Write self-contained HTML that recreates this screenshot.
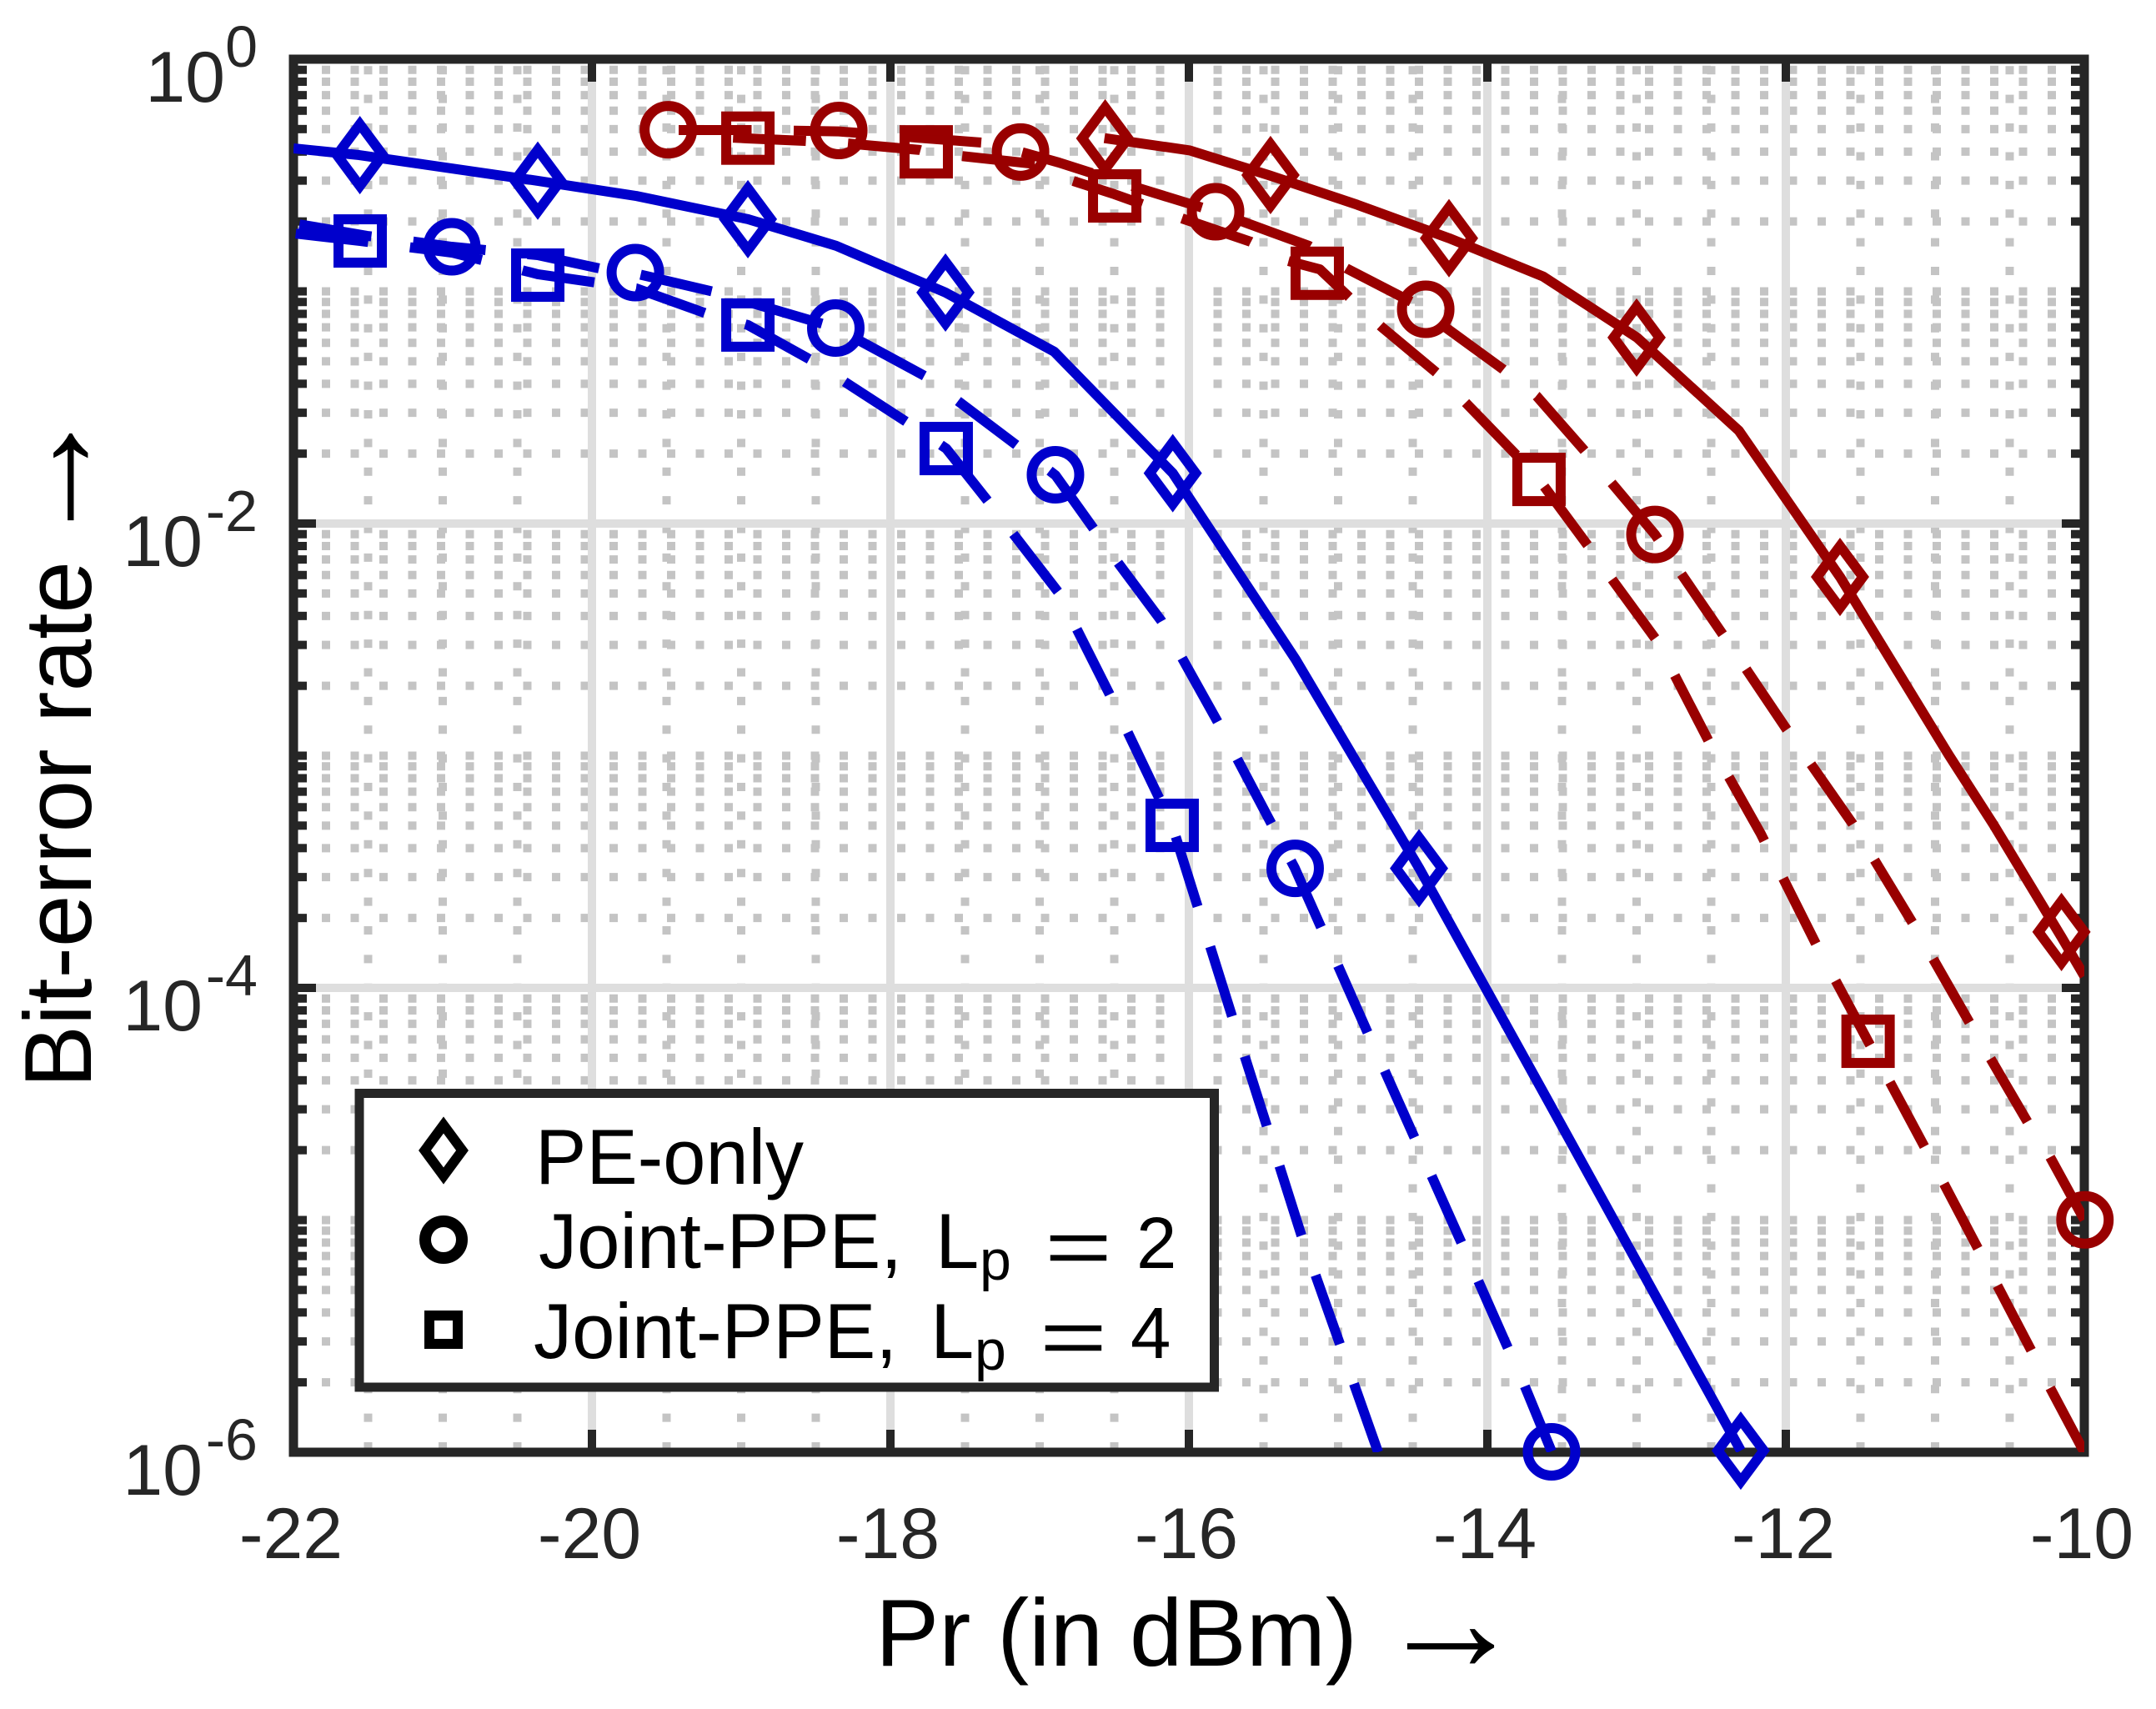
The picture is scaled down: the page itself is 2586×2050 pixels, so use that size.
<!DOCTYPE html>
<html lang="en">
<head>
<meta charset="utf-8">
<title>Bit-error rate vs received power</title>
<style>
html,body{margin:0;padding:0;background:#fff;}
svg{display:block;}
text{font-family:"Liberation Sans",sans-serif;}
</style>
</head>
<body>
<svg id="chart" xmlns="http://www.w3.org/2000/svg" width="2586" height="2050" viewBox="0 0 2586 2050">
<defs><clipPath id="plot-clip"><rect x="352" y="71" width="2148" height="1671"/></clipPath></defs>
<rect x="0" y="0" width="2586" height="2050" fill="#ffffff"/>
<g id="grid"></g>
<g id="axes"></g>
<g id="series"></g>
<text x="1050" y="1998" font-size="114" fill="#000" textLength="578" lengthAdjust="spacingAndGlyphs">Pr (in dBm)</text>
<text x="1652" y="2004" font-size="176" fill="#000">→</text>
<text transform="translate(109,1305) rotate(-90)" font-size="114" fill="#000" textLength="632" lengthAdjust="spacingAndGlyphs">Bit-error rate</text>
<text transform="translate(114,660) rotate(-90)" font-size="176" fill="#000">→</text>
<g>
  <rect x="431" y="1311.5" width="1025.5" height="352.5" fill="#fff" stroke="#262626" stroke-width="11"/>
  <path d="M532 1349.5L554.5 1380L532 1410.5L509.5 1380Z" fill="none" stroke="#000" stroke-width="12" stroke-linejoin="miter"/>
  <circle cx="532" cy="1487" r="22" fill="none" stroke="#000" stroke-width="14"/>
  <rect x="515" y="1578" width="34" height="34" fill="none" stroke="#000" stroke-width="12"/>
  <text x="642" y="1420" font-size="94" fill="#000" textLength="322" lengthAdjust="spacingAndGlyphs">PE-only</text>
  <text x="646" y="1521" font-size="94" fill="#000" textLength="436" lengthAdjust="spacingAndGlyphs">Joint-PPE,</text>
  <text x="1122" y="1521" font-size="94" fill="#000">L</text>
  <text x="1175" y="1535" font-size="68" fill="#000">p</text>
  <text x="1253" y="1528" font-size="94" fill="#000" textLength="81" lengthAdjust="spacingAndGlyphs">=</text>
  <text x="1363" y="1521" font-size="87" fill="#000">2</text>
  <text x="640" y="1629" font-size="94" fill="#000" textLength="436" lengthAdjust="spacingAndGlyphs">Joint-PPE,</text>
  <text x="1116" y="1629" font-size="94" fill="#000">L</text>
  <text x="1169" y="1643" font-size="68" fill="#000">p</text>
  <text x="1247" y="1636" font-size="94" fill="#000" textLength="81" lengthAdjust="spacingAndGlyphs">=</text>
  <text x="1356" y="1629" font-size="87" fill="#000">4</text>
</g>
</svg>
<script>
// Tick values
const xTicks = [-22, -20, -18, -16, -14, -12, -10];
const xMinorTicks = [-21.5, -21, -20.5, -19.5, -19, -18.5, -17.5, -17, -16.5, -15.5, -15, -14.5, -13.5, -13, -12.5, -11.5, -11, -10.5];
const yDecades = [0, -2, -4, -6];
const yMinorDecades = [0, -1, -2, -3, -4, -5];
const yMinorMultipliers = [0.9, 0.8, 0.7, 0.6, 0.5, 0.4, 0.3, 0.2];

// Series: received power (dBm) and log10(BER)
const peBlueX = [-22, -21.559, -20.363, -19.704, -18.955, -18.363, -17.631, -16.902, -16.108, -15.285, -14.458, -13.592, -12.302];
const peBlueLog = [-0.384, -0.413, -0.524, -0.589, -0.689, -0.804, -1.005, -1.260, -1.783, -2.585, -3.483, -4.488, -5.993];
const peBlueMarkX = [-21.555, -20.363, -18.955, -17.631, -16.108, -14.458, -12.302];
const peBlueMarkLog = [-0.413, -0.523, -0.689, -1.005, -1.783, -3.485, -5.993];

const lp2BlueX = [-22, -21.508, -21.19, -20.939, -20.363, -19.950, -19.709, -19.196, -18.369, -17.771, -17.156, -16.894, -16.475, -16.184, -15.810, -15.291, -14.804, -14.173, -13.749, -13.570];
const lp2BlueLog = [-0.707, -0.761, -0.786, -0.808, -0.844, -0.901, -0.923, -1.000, -1.156, -1.364, -1.662, -1.792, -2.169, -2.420, -2.851, -3.483, -4.190, -5.099, -5.716, -5.996];
const lp2BlueMarkX = [-20.939, -19.709, -18.366, -16.894, -15.288, -13.570];
const lp2BlueMarkLog = [-0.808, -0.919, -1.158, -1.790, -3.485, -5.998];

const lp4BlueX = [-22, -21.553, -20.939, -20.363, -19.704, -19.235, -18.955, -18.531, -17.883, -17.626, -17.352, -16.877, -16.531, -16.112, -15.709, -15.246, -14.894, -14.732];
const lp4BlueLog = [-0.750, -0.783, -0.833, -0.926, -0.987, -1.095, -1.145, -1.296, -1.566, -1.677, -1.899, -2.294, -2.736, -3.300, -4.126, -5.066, -5.705, -6];
const lp4BlueMarkX = [-21.553, -20.363, -18.955, -17.626, -16.112];
const lp4BlueMarkLog = [-0.783, -0.930, -1.145, -1.677, -3.300];

const peRedX = [-16.566, -15.994, -15.458, -14.872, -14.257, -13.626, -12.997, -12.315, -11.637, -10.908, -10.609, -10.153, -10];
const peRedLog = [-0.340, -0.393, -0.501, -0.627, -0.771, -0.936, -1.199, -1.600, -2.230, -2.997, -3.296, -3.781, -3.949];
const peRedMarkX = [-16.561, -15.453, -14.257, -13.0, -11.637, -10.153];
const peRedMarkLog = [-0.341, -0.499, -0.771, -1.199, -2.230, -3.759];

const lp2RedX = [-19.492, -18.927, -18.346, -17.821, -17.391, -17.128, -16.872, -16.313, -15.821, -15.196, -14.944, -14.413, -14.285, -13.894, -13.670, -13.352, -12.877, -12.698, -12.419, -11.994, -11.553, -11.151, -10.765, -10.380, -10.229, -10];
const lp2RedLog = [-0.305, -0.305, -0.311, -0.338, -0.359, -0.399, -0.445, -0.560, -0.657, -0.804, -0.901, -1.077, -1.153, -1.336, -1.451, -1.684, -2.047, -2.219, -2.481, -2.887, -3.293, -3.720, -4.154, -4.578, -4.729, -4.998];
const lp2RedMarkX = [-19.488, -18.346, -17.128, -15.821, -14.413, -12.877, -9.996];
const lp2RedMarkLog = [-0.304, -0.307, -0.400, -0.657, -1.077, -2.047, -4.999];

const lp4RedX = [-19.056, -18.961, -18.575, -18.285, -17.804, -17.760, -17.525, -17.022, -16.777, -16.497, -16.045, -15.587, -15.335, -15.123, -14.916, -14.709, -14.341, -14.134, -13.799, -13.654, -13.324, -13.156, -12.866, -12.514, -12.168, -11.793, -11.449, -11.067, -10.709, -10.352, -10.229, -10];
const lp4RedLog = [-0.338, -0.341, -0.352, -0.363, -0.391, -0.399, -0.417, -0.452, -0.524, -0.582, -0.686, -0.786, -0.869, -0.905, -1.031, -1.153, -1.350, -1.487, -1.709, -1.810, -2.097, -2.248, -2.503, -2.941, -3.336, -3.817, -4.230, -4.689, -5.127, -5.566, -5.723, -6];
const lp4RedMarkX = [-18.955, -17.760, -16.497, -15.140, -13.654, -11.449];
const lp4RedMarkLog = [-0.340, -0.399, -0.589, -0.922, -1.810, -4.230];

const NS = 'http://www.w3.org/2000/svg';
const plot = {left: 352, right: 2500, top: 71, bottom: 1742};
function xScale(v) { return plot.left + (v + 22) * (plot.right - plot.left) / 12; }
function yScale(l) { return plot.top + (-l) * (plot.bottom - plot.top) / 6; }

function make(tag, parent, attrs) {
  const el = document.createElementNS(NS, tag);
  for (const k in attrs) el.setAttribute(k, attrs[k]);
  parent.appendChild(el);
  return el;
}

const gridG = document.getElementById('grid');
const axesG = document.getElementById('axes');
const seriesG = document.getElementById('series');

// Minor dotted grid
xMinorTicks.forEach(function (v) {
  const el = make('line', gridG, {x1: xScale(v), x2: xScale(v), y1: 1740, y2: plot.top + 5, stroke: '#c4c4c4', 'stroke-width': 10, 'stroke-dasharray': '10 24.39'});
  
  
});
yMinorDecades.forEach(function (d) {
  yMinorMultipliers.forEach(function (m) {
    const y = yScale(d + Math.log10(m));
    const el = make('line', gridG, {x1: 351.5, x2: plot.right - 5, y1: y, y2: y, stroke: '#c4c4c4', 'stroke-width': 10, 'stroke-dasharray': '10 24.5'});
    
    
  });
  if (d % 2 !== 0) return;
  const y = yScale(d - 1);
  const el = make('line', gridG, {x1: 351.5, x2: plot.right - 5, y1: y, y2: y, stroke: '#c4c4c4', 'stroke-width': 10, 'stroke-dasharray': '10 24.5'});
  
  
});

// Major grid
xTicks.slice(1, -1).forEach(function (v) {
  const el = make('line', gridG, {x1: xScale(v), x2: xScale(v), y1: plot.top, y2: plot.bottom, stroke: '#dedede', 'stroke-width': 10});
  
  
});
yDecades.slice(1, -1).forEach(function (d) {
  const el = make('line', gridG, {x1: plot.left, x2: plot.right, y1: yScale(d), y2: yScale(d), stroke: '#dedede', 'stroke-width': 10});
  
  
});

// Axes box and ticks
const axisColor = '#262626';
function tickLine(x1, y1, x2, y2, name) {
  const el = make('line', axesG, {x1: x1, y1: y1, x2: x2, y2: y2, stroke: axisColor, 'stroke-width': 10});
  
  
}
xTicks.slice(1, -1).forEach(function (v) {
  const x = xScale(v);
  tickLine(x, plot.top, x, plot.top + 27, 'x-tick-top');
  tickLine(x, plot.bottom, x, plot.bottom - 27, 'x-tick-bottom');
});
yDecades.forEach(function (d) {
  const y = yScale(d);
  tickLine(plot.left, y, plot.left + 27, y, 'y-major-tick-left');
  tickLine(plot.right, y, plot.right - 27, y, 'y-major-tick-right');
});
yMinorDecades.forEach(function (d) {
  yMinorMultipliers.forEach(function (m) {
    const y = yScale(d + Math.log10(m));
    tickLine(plot.left, y, plot.left + 16, y, 'y-minor-tick-left');
    tickLine(plot.right, y, plot.right - 16, y, 'y-minor-tick-right');
  });
  if (d % 2 !== 0) return;
  const y = yScale(d - 1);
  tickLine(plot.left, y, plot.left + 16, y, 'y-minor-tick-left');
  tickLine(plot.right, y, plot.right - 16, y, 'y-minor-tick-right');
});
const frame = make('rect', axesG, {x: plot.left, y: plot.top, width: plot.right - plot.left, height: plot.bottom - plot.top, fill: 'none', stroke: axisColor, 'stroke-width': 11});



// Tick labels
xTicks.forEach(function (v) {
  const t = make('text', axesG, {x: xScale(v) - 3, y: 1869, 'font-size': 86, fill: axisColor, 'text-anchor': 'middle'});
  t.textContent = String(v);
  
  
});
yDecades.forEach(function (d) {
  const base = yScale(d) + 51;
  const exp = String(d);
  const tenEnd = d === 0 ? 270 : 243;
  const t = make('text', axesG, {x: tenEnd, y: base, 'font-size': 86, fill: axisColor, 'text-anchor': 'end'});
  t.textContent = '10';
  
  
  const e = make('text', axesG, {x: 309, y: base - 42, 'font-size': 70, fill: axisColor, 'text-anchor': 'end'});
  e.textContent = exp;
  
  
});

// Series
const dashOn = 87.5, dashOff = 50.5;
function drawLine(xs, logs, color, anchorIndex, name) {
  const pts = xs.map(function (v, i) { return xScale(v) + ',' + yScale(logs[i]); }).join(' ');
  const el = make('polyline', seriesG, {points: pts, fill: 'none', stroke: color, 'stroke-width': 12, 'clip-path': 'url(#plot-clip)', 'stroke-linejoin': 'round'});
  if (anchorIndex !== null) {
    // Phase the dash pattern so a dash starts at the anchor vertex.
    let len = 0;
    for (let i = 1; i <= anchorIndex; i++) {
      len += Math.hypot(xScale(xs[i]) - xScale(xs[i - 1]), yScale(logs[i]) - yScale(logs[i - 1]));
    }
    const period = dashOn + dashOff;
    el.setAttribute('stroke-dasharray', dashOn + ' ' + dashOff);
    el.setAttribute('stroke-dashoffset', ((-len % period) + period) % period);
  }
  
  
}
function drawMarkers(kind, xs, logs, color, name) {
  xs.forEach(function (v, i) {
    const cx = xScale(v), cy = yScale(logs[i]);
    let el;
    if (kind === 'diamond') {
      el = make('path', seriesG, {d: 'M' + cx + ' ' + (cy - 37) + 'L' + (cx + 27.5) + ' ' + cy + 'L' + cx + ' ' + (cy + 37) + 'L' + (cx - 27.5) + ' ' + cy + 'Z', fill: 'none', stroke: color, 'stroke-width': 12, 'stroke-miterlimit': 10});
    } else if (kind === 'circle') {
      el = make('circle', seriesG, {cx: cx, cy: cy, r: 28.5, fill: 'none', stroke: color, 'stroke-width': 12});
    } else {
      el = make('rect', seriesG, {x: cx - 26, y: cy - 26, width: 52, height: 52, fill: 'none', stroke: color, 'stroke-width': 12});
    }
    
    
  });
}
const blue = '#0000cc', red = '#990000';
drawLine(peBlueX, peBlueLog, blue, null, 'line-pe-only-blue');
drawLine(lp2BlueX, lp2BlueLog, blue, 18, 'line-joint-lp2-blue');
drawLine(lp4BlueX, lp4BlueLog, blue, 16, 'line-joint-lp4-blue');
drawLine(peRedX, peRedLog, red, null, 'line-pe-only-red');
drawLine(lp2RedX, lp2RedLog, red, 24, 'line-joint-lp2-red');
drawLine(lp4RedX, lp4RedLog, red, 30, 'line-joint-lp4-red');
drawMarkers('diamond', peBlueMarkX, peBlueMarkLog, blue, 'marker-pe-only-blue');
drawMarkers('circle', lp2BlueMarkX, lp2BlueMarkLog, blue, 'marker-joint-lp2-blue');
drawMarkers('square', lp4BlueMarkX, lp4BlueMarkLog, blue, 'marker-joint-lp4-blue');
drawMarkers('diamond', peRedMarkX, peRedMarkLog, red, 'marker-pe-only-red');
drawMarkers('circle', lp2RedMarkX, lp2RedMarkLog, red, 'marker-joint-lp2-red');
drawMarkers('square', lp4RedMarkX, lp4RedMarkLog, red, 'marker-joint-lp4-red');
</script>
</body>
</html>
